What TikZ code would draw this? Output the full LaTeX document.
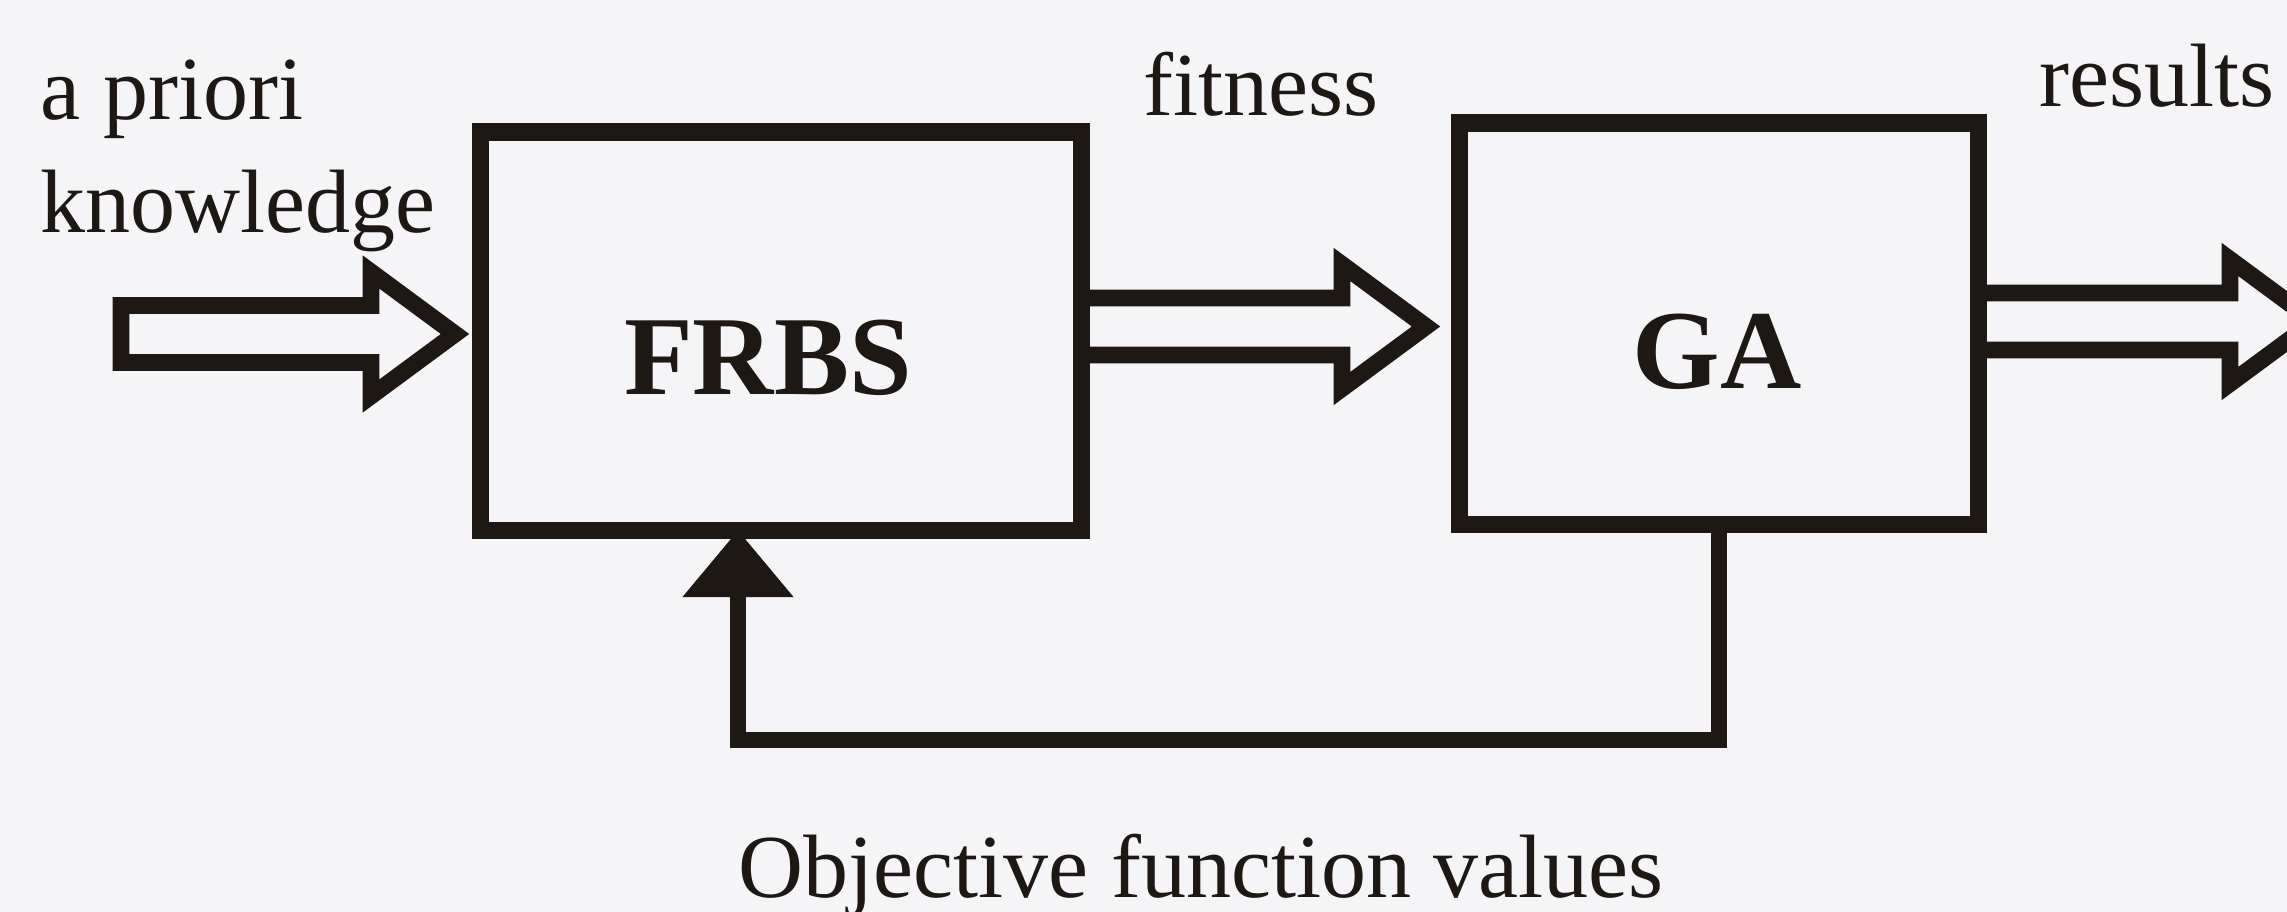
\documentclass[tikz,border=0pt]{standalone}
\usepackage{fontspec}
\setmainfont{Liberation Serif}
\usetikzlibrary{arrows.meta,calc}
\definecolor{ink}{RGB}{30,24,20}
\definecolor{paper}{RGB}{245,245,247}

% hollow block arrow: #1 start of shaft, #2 tip, #3 optional closing of the tail
\newcommand\fatarrow[3]{%
  \draw[fat] ([shift={(0,-28.5)}]#1) -- ([shift={(-84,-28.5)}]#2)
    -- ([shift={(-84,-62)}]#2) -- (#2) -- ([shift={(-84,62)}]#2)
    -- ([shift={(-84,28.5)}]#2) -- ([shift={(0,28.5)}]#1) #3;}

\begin{document}
\begin{tikzpicture}[x=0.01cm,y=-0.01cm,
  block/.style={draw=ink,line width=4.9pt,inner sep=0pt,outer sep=0pt},
  blocklabel/.style={text=ink,font=\fontsize{32}{36}\selectfont\bfseries,inner sep=0pt,anchor=base},
  tag/.style={text=ink,font=\fontsize{25.6}{30}\selectfont,inner sep=0pt,anchor=base west},
  fat/.style={draw=ink,line width=4.8pt,line join=miter},
  feed/.style={draw=ink,line width=4.6pt,line join=miter,-{Triangle[width=1.07cm,length=0.67cm]}}]

\useasboundingbox (0,0) rectangle (2287,912);
\fill[paper] (0,0) rectangle (2287,912);
\clip (0,0) rectangle (2287,912);

% the two blocks
\node[block,minimum width=6cm,minimum height=3.98cm] (frbs) at (781,331) {};
\node[block,minimum width=5.18cm,minimum height=4.01cm] (ga) at (1719,323.5) {};
\node[blocklabel] (frbslabel) at (768,394) {FRBS};
\node[blocklabel] (galabel) at (1717,388) {GA};

% labels
\node[tag] (apriori) at (40,119) {a priori};
\node[tag] (knowledge) at (40,232) {knowledge};
\node[tag] (fitness) at (1143,115) {fitness};
\node[tag] (results) at (2039,106) {results};
\node[tag] (objective) at (738,897) {Objective function values};

% hollow arrows
\coordinate (intail) at (121,334);
\coordinate (intip) at (455,334);
\fatarrow{intail}{intip}{-- cycle}

\coordinate (fittail) at (frbs.east |- 0,326.5);
\coordinate (fittip) at (1426,326.5);
\fatarrow{fittail}{fittip}{}

\coordinate (restail) at (ga.east |- 0,321.5);
\coordinate (restip) at (2314,321.5);
\fatarrow{restail}{restip}{}

% feedback loop from GA back to FRBS
\coordinate (fbright) at (ga.south |- 0,740);
\coordinate (fbleft) at (738,740);
\draw[feed] (ga.south) -- (fbright) -- (fbleft) -- (fbleft |- frbs.south);
\end{tikzpicture}
\end{document}
